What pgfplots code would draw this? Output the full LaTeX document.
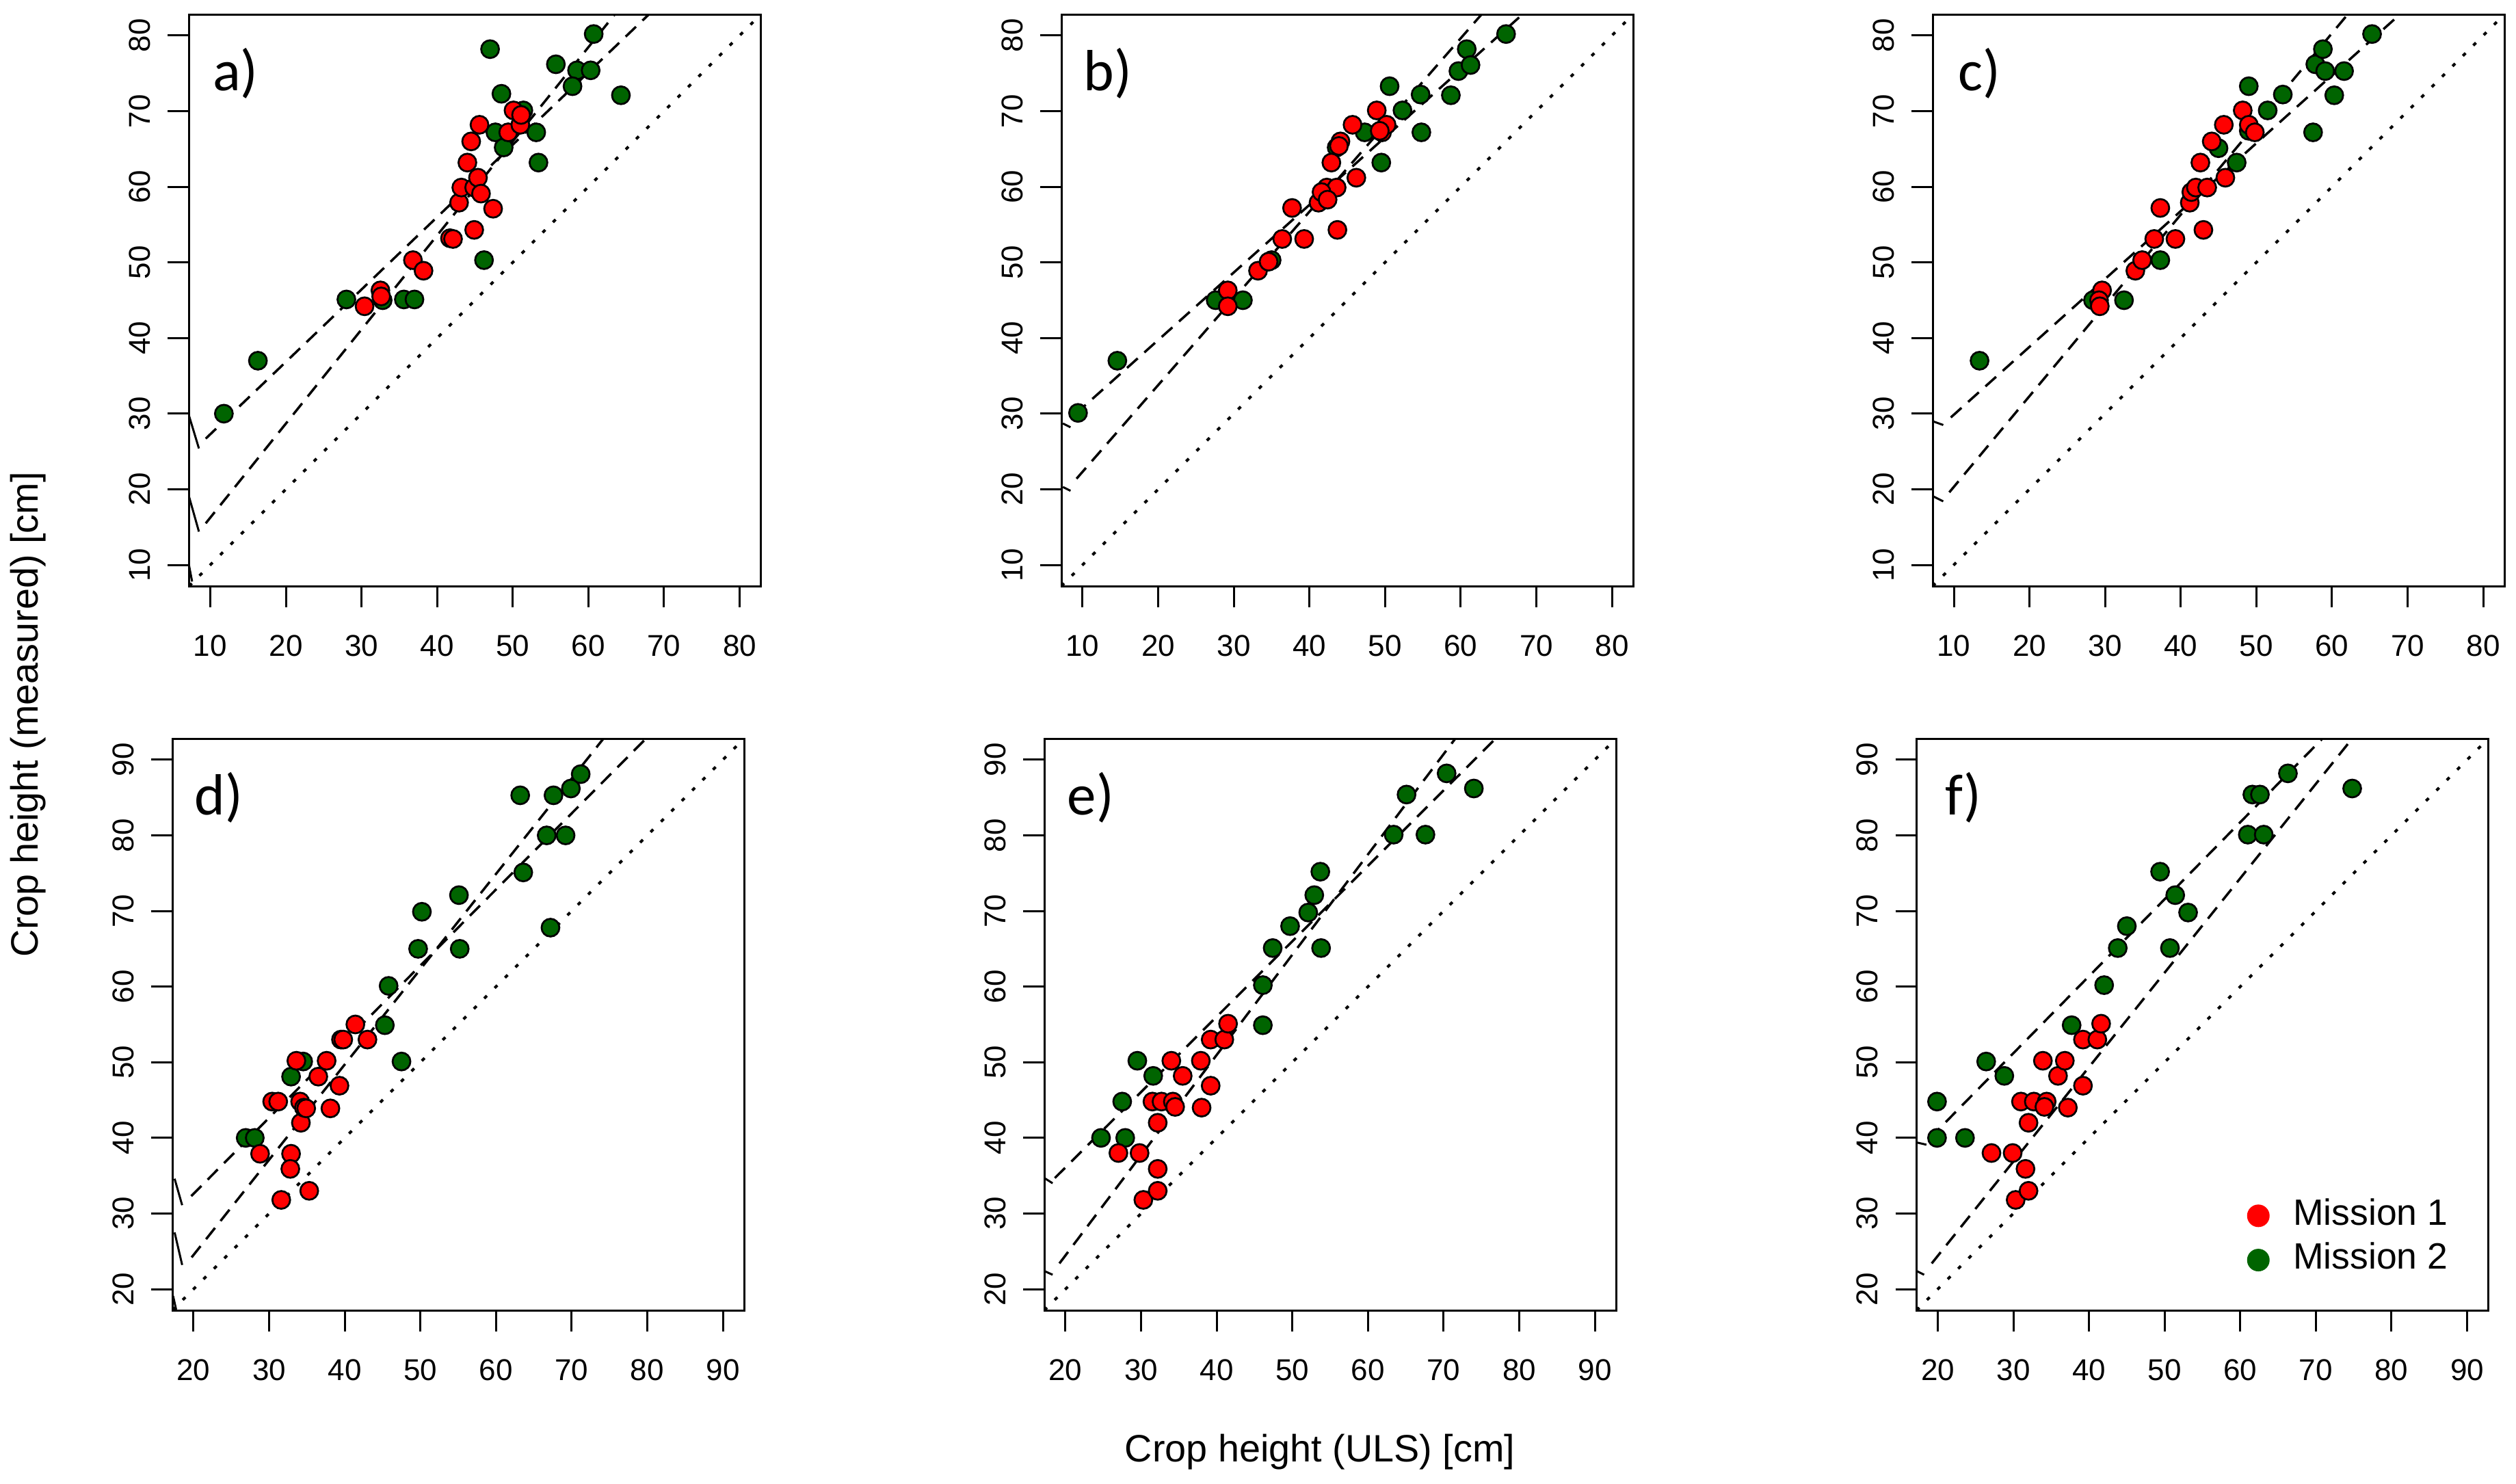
\documentclass[border=0pt]{standalone}
\usepackage{pgfplots}
\pgfplotsset{compat=1.18}
\usepackage{fontspec}
\setmainfont{Liberation Sans}
\newfontfamily\tagfont{Carlito}

\definecolor{m1red}{RGB}{255,0,0}
\definecolor{m2green}{RGB}{0,100,0}

\pgfplotsset{
  panel/.style={
    scale only axis, width=167.2pt, height=167.2pt,
    anchor=north west,
    axis line style={line width=0.6pt},
    tick style={black, line width=0.6pt},
    tick align=outside, major tick length=6.2pt,
    tick pos=left,
    /pgf/number format/assume math mode=true,
    tick label style={font=\fontsize{8.8}{10}\selectfont},
    xticklabel style={anchor=center},
    yticklabel style={rotate=90, anchor=center},
    xticklabel shift=11.2pt,
    yticklabel shift=8.2pt,
    clip marker paths=true,
  },
  toprow/.style={xmin=7.2, xmax=82.8, ymin=7.2, ymax=82.8,
    xtick={10,20,...,80}, ytick={10,20,...,80}},
  botrow/.style={xmin=17.2, xmax=92.8, ymin=17.2, ymax=92.8,
    xtick={20,30,...,90}, ytick={20,30,...,90}},
  m1/.style={only marks, mark=*, mark size=2.6pt,
    mark options={fill=m1red, draw=black, line width=0.55pt}, forget plot},
  m2/.style={only marks, mark=*, mark size=2.6pt,
    mark options={fill=m2green, draw=black, line width=0.55pt}, forget plot},
  fit/.style={black, no marks, line width=0.7pt, dash pattern=on 4.2pt off 2.6pt, forget plot},
  oneone/.style={black, no marks, line width=0.8pt, dash pattern=on 1.1pt off 3.2pt, forget plot},
  stub/.style={black, no marks, line width=0.6pt, forget plot},
}
\newcommand{\tag}[1]{\node[font=\tagfont\fontsize{17}{20}\selectfont, anchor=center, xshift=13.6pt, yshift=-17.3pt] at (rel axis cs:0,1) {#1};}

\begin{document}
\begin{tikzpicture}
\useasboundingbox (0,0) rectangle (735.8pt,-433.8pt);

% a)
\begin{axis}[panel, toprow, at={(55.3pt,-4.2pt)}]
\addplot[oneone] coordinates {(7.2,7.2) (82.8,82.8)};
\addplot[fit] coordinates {(9.4,26.7) (75,89.5)};
\addplot[fit] coordinates {(9.4,15.5) (70,90.9)};
\addplot[stub] coordinates {(7.2,29.7) (8.5,25.4)};
\addplot[stub] coordinates {(7.2,19.0) (8.5,14.4)};
\addplot[stub] coordinates {(7.2,9.9) (7.6,7.8)};
\addplot[m2] table {
x y
11.8 30.0
16.3 37.0
28.0 45.1
32.8 45.0
35.6 45.1
37.0 45.1
46.2 50.3
47.0 78.2
48.5 72.3
47.7 67.2
48.8 65.2
51.4 70.1
53.1 67.2
53.4 63.2
55.7 76.2
58.5 75.4
60.3 75.4
57.9 73.3
60.7 80.2
64.3 72.1
};
\addplot[m1] table {
x y
30.4 44.2
32.5 46.3
32.6 45.5
36.8 50.3
38.2 48.9
41.7 53.2
42.1 53.1
44.9 54.3
42.9 57.9
43.2 59.9
44.9 59.9
45.4 61.2
45.8 59.1
47.4 57.1
44.0 63.2
44.5 66.0
45.6 68.2
49.4 67.2
51.0 68.2
50.1 70.1
51.1 69.5
};
\tag{a)}
\end{axis}

% b)
\begin{axis}[panel, toprow, at={(310.4pt,-4.2pt)}]
\addplot[oneone] coordinates {(7.2,7.2) (82.8,82.8)};
\addplot[fit] coordinates {(9.0,29.9) (75,88.9)};
\addplot[fit] coordinates {(9.2,21.4) (70,91.1)};
\addplot[stub] coordinates {(7.4,28.7) (8.4,28.2)};
\addplot[stub] coordinates {(7.4,20.3) (8.4,19.8)};
\addplot[m2] table {
x y
9.4 30.1
14.6 37.0
27.6 45.0
31.2 45.0
35.0 50.3
43.6 65.2
47.3 67.2
49.5 63.2
50.6 73.3
52.3 70.1
54.7 72.2
54.8 67.2
58.7 72.1
59.7 75.3
60.8 78.2
61.3 76.1
66.0 80.2
};
\addplot[m1] table {
x y
29.2 46.3
29.2 44.2
33.2 48.9
34.6 50.1
36.4 53.1
39.3 53.1
37.7 57.2
43.7 54.3
41.2 57.9
42.3 59.9
43.6 59.9
41.6 59.3
42.4 58.3
46.2 61.2
42.9 63.2
44.1 66.0
43.9 65.4
45.7 68.2
48.9 70.1
49.6 67.2
50.2 68.2
49.3 67.4
};
\tag{b)}
\end{axis}

% c)
\begin{axis}[panel, toprow, at={(565.2pt,-4.2pt)}]
\addplot[oneone] coordinates {(7.2,7.2) (82.8,82.8)};
\addplot[fit] coordinates {(9.6,29.5) (75,88.2)};
\addplot[fit] coordinates {(9.4,19.6) (70,92.3)};
\addplot[stub] coordinates {(7.2,29.0) (8.6,28.5)};
\addplot[stub] coordinates {(7.2,19.1) (8.6,18.4)};
\addplot[m2] table {
x y
7.0 30.0
13.4 37.0
28.4 45.0
32.5 45.0
37.3 50.3
45.0 65.1
47.4 63.2
49.0 73.3
49.0 67.4
51.5 70.1
53.5 72.2
57.5 67.2
57.8 76.2
58.8 78.2
59.1 75.3
60.3 72.1
61.6 75.3
65.3 80.2
};
\addplot[m1] table {
x y
29.6 46.3
29.2 45.0
29.3 44.2
34.0 48.9
34.9 50.3
36.5 53.1
39.3 53.1
37.3 57.2
43.0 54.3
41.2 57.9
41.4 59.3
42.0 59.9
43.5 59.9
45.9 61.2
42.6 63.2
44.1 66.0
45.7 68.2
48.2 70.1
49.0 68.2
49.8 67.2
};
\tag{c)}
\end{axis}

% d)
\begin{axis}[panel, botrow, at={(50.4pt,-216pt)}]
\addplot[oneone] coordinates {(17.2,17.2) (92.8,92.8)};
\addplot[fit] coordinates {(19.7,32.3) (85,98.0)};
\addplot[fit] coordinates {(19.75,24.2) (80,100.1)};
\addplot[stub] coordinates {(17.5,34.6) (18.5,31.1)};
\addplot[stub] coordinates {(17.5,27.5) (18.5,23.2)};
\addplot[stub] coordinates {(17.3,19.1) (17.7,17.3)};
\addplot[m2] table {
x y
26.9 40.0
28.1 40.0
32.9 48.1
34.5 50.1
45.3 54.9
45.8 60.1
47.5 50.1
49.7 65.0
50.2 69.9
55.1 72.1
55.2 65.0
63.2 85.3
63.6 75.1
66.7 80.0
67.2 67.8
67.6 85.3
69.2 80.0
69.9 86.2
71.2 88.1
};
\addplot[m1] table {
x y
28.8 37.9
30.4 44.8
31.2 44.8
31.6 31.8
32.9 37.9
32.8 35.9
33.6 50.2
34.1 44.8
34.2 42.0
34.6 44.0
34.9 43.9
35.3 33.0
36.5 48.1
37.6 50.2
38.1 43.9
39.3 46.9
39.5 53.0
39.8 53.0
41.4 55.0
43.0 53.0
};
\tag{d)}
\end{axis}

% e)
\begin{axis}[panel, botrow, at={(305.4pt,-216pt)}]
\addplot[oneone] coordinates {(17.2,17.2) (92.8,92.8)};
\addplot[fit] coordinates {(18.6,34.7) (85,100.9)};
\addplot[fit] coordinates {(19.2,23.4) (80,104.0)};
\addplot[stub] coordinates {(17.2,34.7) (18.3,34.0)};
\addplot[stub] coordinates {(17.2,22.4) (18.3,21.9)};
\addplot[m2] table {
x y
24.7 40.0
27.9 40.0
27.5 44.8
29.5 50.2
31.6 48.2
46.1 54.9
46.1 60.2
47.4 65.1
49.7 68.0
52.1 69.8
52.9 72.1
53.7 75.2
53.8 65.1
63.4 80.1
65.1 85.4
67.6 80.1
70.4 88.2
74.0 86.2
};
\addplot[m1] table {
x y
27.0 38.0
29.8 38.0
30.3 31.8
32.2 33.0
32.2 35.9
32.2 42.0
31.5 44.8
32.7 44.8
34.2 44.8
34.5 44.1
34.0 50.2
35.5 48.2
37.9 50.2
38.0 44.0
39.2 46.9
39.2 53.0
41.0 53.0
41.5 55.1
};
\tag{e)}
\end{axis}

% f)
\begin{axis}[panel, botrow, at={(560.5pt,-216pt)},
  legend style={at={(0.578,0.1955)}, anchor=north west, draw=none, fill=none,
    inner sep=0pt, outer sep=0pt, font=\fontsize{10.7}{12}\selectfont,
    row sep=4.6pt, column sep=6.9pt,
    nodes={inner sep=0pt, outer sep=0pt, text height=7.7pt, text depth=0pt}},
  legend cell align=left,
  legend image code/.code={\fill[#1] (3.1pt,-1.2pt) circle (3.1pt);}]
\addlegendimage{m1red}
\addlegendentry{Mission 1}
\addlegendimage{m2green}
\addlegendentry{Mission 2}
\addplot[oneone] coordinates {(17.2,17.2) (92.8,92.8)};
\addplot[fit] coordinates {(18.9,39.9) (80,102.1)};
\addplot[fit] coordinates {(19.2,23.4) (80,99.3)};
\addplot[stub] coordinates {(17.2,39.4) (18.5,39.1)};
\addplot[stub] coordinates {(17.2,22.4) (18.2,21.9)};
\addplot[m2] table {
x y
19.9 44.8
19.9 40.0
23.6 40.0
26.4 50.1
28.8 48.2
37.7 54.9
42.0 60.2
43.8 65.1
45.0 68.0
49.4 75.2
50.7 65.1
51.4 72.1
53.1 69.8
61.0 80.1
61.6 85.4
62.6 85.4
63.1 80.1
66.3 88.2
74.8 86.2
};
\addplot[m1] table {
x y
27.1 38.0
29.9 38.0
30.3 31.8
32.0 33.0
31.6 35.9
32.0 42.0
31.0 44.8
32.7 44.8
34.4 44.8
34.1 44.1
33.9 50.2
35.9 48.2
36.8 50.2
37.2 44.0
39.2 46.9
39.2 53.0
41.1 53.0
41.6 55.1
};
\tag{f)}
\end{axis}

\node[font=\fontsize{11.15}{13}\selectfont, rotate=90, anchor=center] at (8.2pt,-209pt) {Crop height (measured) [cm]};
\node[font=\fontsize{11.15}{13}\selectfont, anchor=center] at (386pt,-424.6pt) {Crop height (ULS) [cm]};
\end{tikzpicture}
\end{document}
